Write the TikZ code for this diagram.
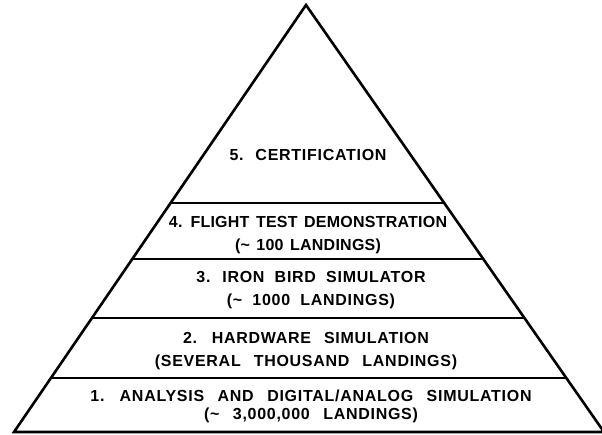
\documentclass[tikz,border=0pt]{standalone}
\usepackage{fontspec}
\setmainfont{Liberation Sans}[LetterSpace=4.5]
\usetikzlibrary{calc}
\newcommand\wordgap[1]{\spaceskip=#1\relax}
\tikzset{
  band/.style={font={\fontsize{16}{23}\selectfont\bfseries\wordgap{#1pt}}},
  band/.default=10.2,
  tightband/.style={font={\fontsize{16}{23}\selectfont\bfseries\addfontfeature{LetterSpace=1.5}\wordgap{6.5pt}}}
}

\begin{document}
\begin{tikzpicture}
  [x=1pt,y=-1pt,every node/.style={inner sep=0pt,align=center}]
  \useasboundingbox (0,0) rectangle (602,435);
  \coordinate (apex) at (306,5);
  \coordinate (bl) at (14,432);
  \coordinate (br) at (604,432);
  \draw[line width=2.6pt,line join=miter] (apex) -- (bl) -- (br) -- cycle;
\foreach \lv/\t in
{4/0.4637, 3/0.5948, 2/0.7330, 1/0.8735}
    \draw[line width=1.8pt] ($(apex)!\t!(bl)$) -- ($(apex)!\t!(br)$);

  \node[band] (c5) at (308,155) {5. CERTIFICATION};
  \node[tightband] (c4) at (308,235.5) {4. FLIGHT TEST DEMONSTRATION\\(\textasciitilde\ 100 LANDINGS)};
  \node[band] (c3) at (311,290) {3. IRON BIRD SIMULATOR\\(\textasciitilde\ 1000 LANDINGS)};
  \node[band=13] (c2) at (306,351.5) {2. HARDWARE SIMULATION\\(SEVERAL THOUSAND LANDINGS)};
  \node[band=13.5] (c1) at (311,406) {1. ANALYSIS AND DIGITAL/ANALOG SIMULATION\\[-5pt](\textasciitilde\ 3,000,000 LANDINGS)};

\end{tikzpicture}
\end{document}
